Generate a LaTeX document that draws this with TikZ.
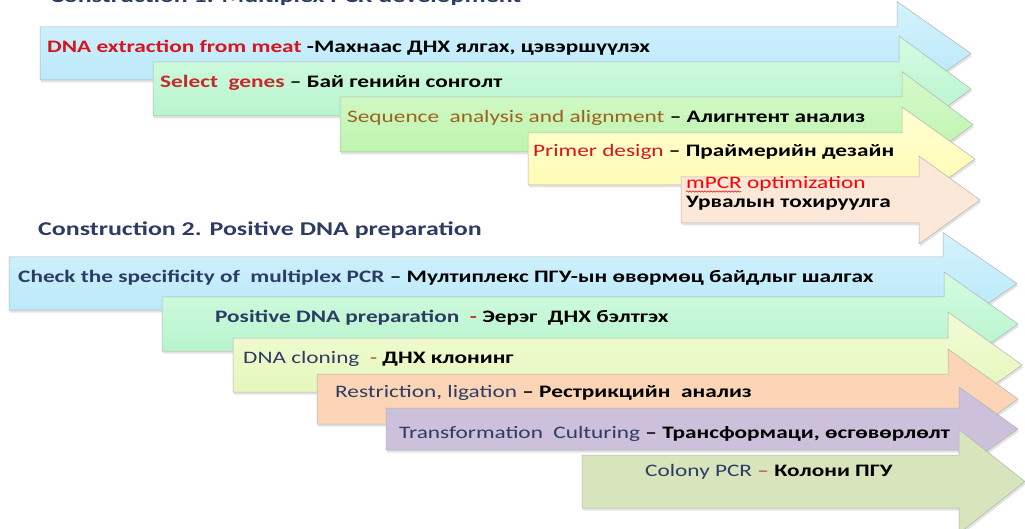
\documentclass[tikz,border=0pt]{standalone}
\usepackage{fontspec}
\setmainfont{Carlito}[FakeStretch=1.33]
\usetikzlibrary{shadows,decorations.pathmorphing}
\definecolor{redA}{HTML}{D8141E}
\definecolor{redB}{HTML}{C42A2E}
\definecolor{brownA}{HTML}{9E621C}
\definecolor{navy}{HTML}{2D3C64}
\definecolor{dashred}{HTML}{B03A2A}
\definecolor{blueT}{RGB}{212,243,253}\definecolor{blueB}{RGB}{180,230,248}
\definecolor{mintT}{RGB}{212,252,226}\definecolor{mintB}{RGB}{176,242,200}
\definecolor{grnT}{RGB}{214,250,202}\definecolor{grnB}{RGB}{184,242,168}
\definecolor{ylwT}{RGB}{255,255,212}\definecolor{ylwB}{RGB}{255,250,170}
\definecolor{lgT}{RGB}{242,252,214}\definecolor{lgB}{RGB}{226,246,180}
\newcommand\pArrow[7]{%
  \path[#7] (#1,#2) -- (#4,#2) -- (#4,{(#2+#3)/2-#6}) -- (#5,{(#2+#3)/2})
    -- (#4,{(#2+#3)/2+#6}) -- (#4,#3) -- (#1,#3) -- cycle;}
\tikzset{
  arr/.style={draw=black!30, line width=0.5pt,
    drop shadow={opacity=0.22, shadow xshift=1pt, shadow yshift=-2.5pt}},
  lbl/.style={anchor=base west, inner sep=0pt, font=\fontsize{17.5}{20}\selectfont},
  ttl/.style={anchor=base west, inner sep=0pt, font=\fontsize{19.5}{22}\selectfont\bfseries, text=navy},
}
\begin{document}
\begin{tikzpicture}[x=1pt,y=-1pt]
\useasboundingbox (0,0) rectangle (1025,529);
\clip (0,0) rectangle (1025,529);
\fill[white] (0,0) rectangle (1025,529);
% ---- Construction 1
\node[ttl] (t1) at (50,3) {Construction 1. Multiplex PCR development};
\pArrow{40}{27}{80}{897}{971}{52}{arr, top color=blueT, bottom color=blueB}
\pArrow{153}{62}{116}{899}{971}{53}{arr, top color=mintT, bottom color=mintB}
\pArrow{340}{97}{152}{902}{973}{53}{arr, top color=grnT, bottom color=grnB}
\pArrow{528}{133}{185}{902}{975}{52}{arr, top color=ylwT, bottom color=ylwB}
\pArrow{681}{177}{223}{919}{980}{44}{arr, fill={rgb,255:red,251;green,232;blue,216}}
\node[lbl] (a1) at (47,53) {\bfseries\textcolor{redA}{DNA extraction from meat} -Махнаас ДНХ ялгах, цэвэршүүлэх};
\node[lbl] (a2) at (160,88) {\bfseries\textcolor{redB}{Select\ \ genes} – Бай генийн сонголт};
\node[lbl] (a3) at (347,123) {\textcolor{brownA}{Sequence\ \ analysis and alignment} \bfseries– Алигнтент анализ};
\node[lbl] (a4) at (533,157) {\textcolor{redA}{Primer design} \bfseries– Праймерийн дезайн};
\node[lbl] (a5) at (686,189) {\textcolor{red}{mPCR optimization}};
\node[lbl] (a6) at (686,208) {\bfseries Урвалын тохируулга};
\draw[red, line width=0.5pt, decorate, decoration={snake, amplitude=0.7pt, segment length=3pt}]
  ([yshift=-2.5pt]a5.base west) -- ++(55,0);
% ---- Construction 2
\node[ttl] (t2) at (38,236) {Construction 2. Positive DNA preparation};
\pArrow{9}{257}{310}{943}{1017}{51}{arr, top color=blueT, bottom color=blueB}
\pArrow{162}{297}{351}{944}{1018}{52}{arr, top color=mintT, bottom color=mintB}
\pArrow{233}{338}{392}{948}{1022}{53}{arr, top color=lgT, bottom color=lgB}
\pArrow{317}{374}{424}{948}{1018}{50}{arr, fill={rgb,255:red,251;green,213;blue,181}}
\pArrow{386}{408}{450}{959}{1018}{42}{arr, fill={rgb,255:red,204;green,192;blue,218}}
\pArrow{582}{455}{508}{959}{1025}{52}{arr, fill={rgb,255:red,216;green,228;blue,188}}
\node[lbl] (b1) at (18,283) {\bfseries\textcolor{navy}{Check the specificity of\ \ multiplex PCR} – Мултиплекс ПГУ-ын өвөрмөц байдлыг шалгах};
\node[lbl] (b2) at (215,323) {\bfseries\textcolor{navy}{Positive DNA preparation}\ \ \textcolor{dashred}{-} Эерэг\ \ ДНХ бэлтгэх};
\node[lbl] (b3) at (243,363) {\textcolor{navy}{DNA cloning}\ \ \textcolor{dashred}{-} \bfseries ДНХ клонинг};
\node[lbl] (b4) at (335,397) {\textcolor{navy}{Restriction, ligation} \bfseries– Рестрикцийн\ \ анализ};
\node[lbl] (b5) at (399,438) {\textcolor{navy}{Transformation\ \ Culturing} \bfseries– Трансформаци, өсгөвөрлөлт};
\node[lbl] (b6) at (645,476) {\textcolor{navy}{Colony PCR} \textcolor{dashred}{–} \bfseries Колони ПГУ};
\end{tikzpicture}
\end{document}
